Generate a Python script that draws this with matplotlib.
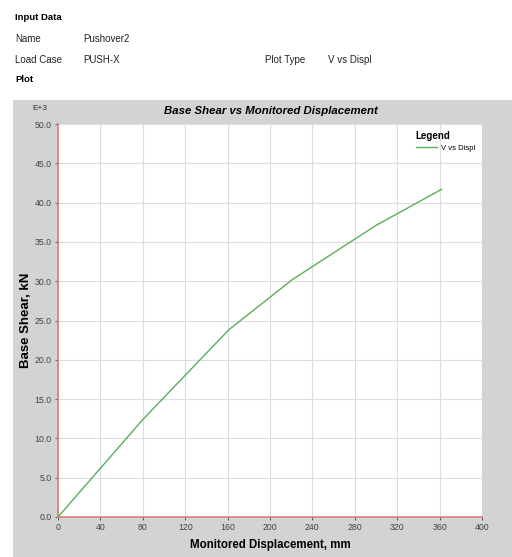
import matplotlib
matplotlib.use("Agg")
import matplotlib.pyplot as plt
from matplotlib.patches import Rectangle

plt.rcParams['font.family'] = ['Liberation Sans', 'DejaVu Sans']

# pushover curve: roof displacement (mm) vs base shear (x1000 kN)
disp = [0, 80, 161, 221, 300, 362]
shear = [0.0, 12.4, 23.8, 30.2, 37.1, 41.7]

x_ticks = [0, 40, 80, 120, 160, 200, 240, 280, 320, 360, 400]
y_ticks = [0.0, 5.0, 10.0, 15.0, 20.0, 25.0, 30.0, 35.0, 40.0, 45.0, 50.0]

W, H = 512, 557
fig = plt.figure(figsize=(W / 100, H / 100), dpi=100)
fig.patch.set_facecolor("white")

def fx(px):
    return px / W

def fy(py):
    return 1 - py / H

# header block
fig.text(fx(15), fy(17), "Input Data", fontsize=6.8, fontweight="bold", va="center")
fig.text(fx(15), fy(39), "Name", fontsize=7, va="center", color="#222222")
fig.text(fx(83), fy(39), "Pushover2", fontsize=7, va="center", color="#222222")
fig.text(fx(15), fy(60), "Load Case", fontsize=7, va="center", color="#222222")
fig.text(fx(83), fy(60), "PUSH-X", fontsize=7, va="center", color="#222222")
fig.text(fx(265), fy(60), "Plot Type", fontsize=7, va="center", color="#222222")
fig.text(fx(328), fy(60), "V vs Displ", fontsize=7, va="center", color="#222222")
fig.text(fx(15), fy(80), "Plot", fontsize=6.8, fontweight="bold", va="center")

# grey plot panel
fig.patches.append(Rectangle((fx(13), 0), 1 - fx(13), fy(100), transform=fig.transFigure,
                             facecolor="#d3d3d3", edgecolor="none", zorder=-5))

fig.text(fx(271), fy(111), "Base Shear vs Monitored Displacement", fontsize=8.2,
         fontweight="bold", fontstyle="italic", ha="center", va="center")
fig.text(fx(40), fy(109), "E+3", fontsize=6, ha="center", va="center", color="#333333")

ax = fig.add_axes([fx(58), fy(517), fx(482) - fx(58), fy(124) - fy(517)])
ax.set_zorder(2)
ax.set_facecolor("white")
ax.plot(disp, shear, color="#5aae5a", lw=1.0, label="V vs Displ", zorder=3)

ax.set_xlim(0, 400)
ax.set_ylim(0, 50)
ax.set_xticks(x_ticks)
ax.set_yticks(y_ticks)
ax.set_xticklabels([str(t) for t in x_ticks])
ax.set_yticklabels([f"{t:.1f}" for t in y_ticks])
ax.tick_params(labelsize=6.3, labelcolor="#444444", length=2.5, width=0.6, color="#444444", pad=2)
ax.grid(True, color="#dddddd", lw=0.8)
ax.set_axisbelow(True)

for side in ["top", "right"]:
    ax.spines[side].set_visible(False)
for side in ["left", "bottom"]:
    ax.spines[side].set_color("#e07b7b")
    ax.spines[side].set_linewidth(1.2)

ax.set_xlabel("Monitored Displacement, mm", fontsize=8.3, fontweight="bold", labelpad=5)
ax.set_ylabel("Base Shear, kN", fontsize=9.5, fontweight="bold", labelpad=2)

leg = ax.legend(loc="upper right", frameon=False, title="Legend", fontsize=5.5,
                title_fontproperties={"weight": "bold", "size": 7}, alignment="left",
                handlelength=2.8, handletextpad=0.5, bbox_to_anchor=(1.0, 1.0))

fig.savefig("out.png", dpi=100)
